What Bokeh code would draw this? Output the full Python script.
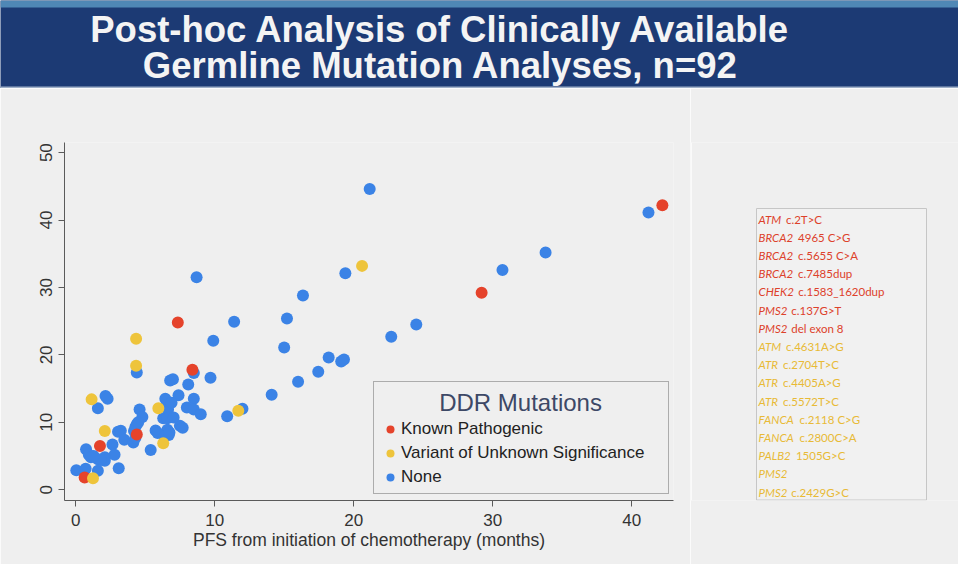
from bokeh.plotting import figure
from bokeh.models import Range1d, Legend, LegendItem, Label, FixedTicker
from bokeh.layouts import column, row
from bokeh.embed import file_html
from bokeh.resources import INLINE
from bokeh.core.properties import value

# ---------------- data ----------------
TITLE_LINES = ["Post-hoc Analysis of Clinically Available",
               "Germline Mutation Analyses, n=92"]
X_TICKS = [0, 10, 20, 30, 40]
Y_TICKS = [0, 10, 20, 30, 40, 50]
X_LABEL = "PFS from initiation of chemotherapy (months)"
LEGEND_TITLE = "DDR Mutations"
CATEGORIES = ["Known Pathogenic", "Variant of Unknown Significance", "None"]

path_x = [0.65, 1.75, 4.4, 7.35, 8.4, 29.2, 42.2]
path_y = [1.8, 6.5, 8.2, 24.8, 17.8, 29.2, 42.2]

vus_x = [1.15, 2.1, 1.25, 4.35, 4.35, 5.95, 6.3, 11.7, 20.6]
vus_y = [13.4, 8.7, 1.7, 22.4, 18.4, 12.1, 6.9, 11.7, 33.2]

none_x = [21.15, 8.7, 19.4, 16.35, 15.2, 11.4, 9.9, 15.0, 22.7, 41.2,
          33.8, 30.7, 24.5, 18.2, 19.1, 19.3, 17.45, 16.0, 14.1, 12.0,
          10.9, 9.7, 8.5, 8.1, 8.5, 8.0, 8.5, 9.0, 7.4, 7.5,
          7.7, 4.4, 6.8, 7.0, 2.15, 2.3, 1.6, 6.45, 6.55, 6.65,
          4.6, 4.8, 6.3, 6.6, 7.05, 4.4, 4.3, 3.05, 3.25, 4.2,
          5.75, 6.6, 5.9, 6.7, 6.4, 3.5, 4.15, 4.3, 2.65, 5.4,
          0.75, 0.95, 2.8, 1.6, 2.1, 2.1, 1.8, 3.1, 0.05, 0.72,
          1.6, 1.1, 6.75, 4.5, 1.3, 6.9]
none_y = [44.6, 31.5, 32.1, 28.8, 25.4, 24.9, 22.1, 21.1, 22.7, 41.1,
          35.2, 32.6, 24.5, 19.6, 19.0, 19.3, 17.5, 16.0, 14.1, 12.0,
          10.9, 16.6, 17.3, 15.6, 13.5, 12.2, 11.9, 11.2, 14.0, 9.5,
          9.2, 17.4, 16.2, 16.4, 13.9, 13.5, 12.1, 13.5, 12.6, 11.9,
          11.9, 10.8, 10.6, 10.6, 10.7, 9.7, 9.3, 8.6, 8.75, 8.7,
          8.8, 8.9, 8.4, 8.1, 7.9, 7.4, 7.0, 7.7, 6.7, 5.9,
          6.0, 5.2, 5.2, 4.5, 4.8, 4.3, 4.4, 3.2, 2.9, 3.1,
          2.8, 4.8, 8.5, 10.0, 5.0, 12.9]

GENES = ["ATM", "BRCA2", "BRCA2", "BRCA2", "CHEK2", "PMS2", "PMS2",
         "ATM", "ATR", "ATR", "ATR", "FANCA", "FANCA", "PALB2", "PMS2", "PMS2"]
VARIANTS = ["c.2T>C", "4965 C>G", "c.5655 C>A", "c.7485dup", "c.1583_1620dup",
            "c.137G>T", "del exon 8", "c.4631A>G", "c.2704T>C", "c.4405A>G",
            "c.5572T>C", "c.2118 C>G", "c.2800C>A", "1505G>C", "", "c.2429G>C"]
GENE_CLASS = ["Known Pathogenic"] * 7 + ["Variant of Unknown Significance"] * 9

# ---------------- style ----------------
BG = "#efefef"
NAVY = "#1c3a74"
RED = "#e5432b"
YELLOW = "#eec43b"
BLUE = "#3b83e6"
TXT_RED = "#dd412b"
TXT_YEL = "#e8ba36"
FONT = "Liberation Sans"


def hide_axes(f):
    f.xaxis.visible = False
    f.yaxis.visible = False
    f.xgrid.visible = False
    f.ygrid.visible = False
    f.outline_line_color = None


# ---------------- banner ----------------
banner = figure(width=958, height=88, x_range=Range1d(0, 958), y_range=Range1d(88, 0),
                toolbar_location=None, output_backend="svg", min_border=0)
hide_axes(banner)
banner.background_fill_color = NAVY
banner.border_fill_color = NAVY
banner.quad(left=[0], right=[958], top=[0], bottom=[7], fill_color="#4f87b5", line_color=None)
banner.quad(left=[0], right=[958], top=[86], bottom=[88], fill_color="#9fb0c8", line_color=None)
banner.text(x=[440, 440], y=[29, 65], text=TITLE_LINES, text_align="center",
            text_baseline="middle", text_font=value(FONT), text_font_style="bold",
            text_font_size="36.5px", text_color="#f4f4f4")

# ---------------- main scatter ----------------
p = figure(width=690, height=476, x_range=Range1d(-0.8, 43.0), y_range=Range1d(-1.6, 51.5),
           toolbar_location=None, output_backend="svg",
           min_border_left=64, min_border_right=17, min_border_top=54, min_border_bottom=64)
p.background_fill_color = BG
p.border_fill_color = BG
p.outline_line_color = None
p.xgrid.visible = False
p.ygrid.visible = False

r_none = p.scatter(none_x, none_y, size=12, fill_color=BLUE, line_color=None)
r_path = p.scatter(path_x, path_y, size=12, fill_color=RED, line_color=None)
r_vus = p.scatter(vus_x, vus_y, size=12, fill_color=YELLOW, line_color=None)

for ax in (p.xaxis[0], p.yaxis[0]):
    ax.axis_line_color = "#5a5a5a"
    ax.major_tick_line_color = "#5a5a5a"
    ax.minor_tick_line_color = None
    ax.major_tick_out = 6
    ax.major_tick_in = 0
    ax.major_label_text_font = FONT
    ax.major_label_text_font_size = "17px"
    ax.major_label_text_color = "#333333"

p.xaxis.ticker = FixedTicker(ticks=X_TICKS)
p.yaxis.ticker = FixedTicker(ticks=Y_TICKS)
p.yaxis.major_label_orientation = "vertical"
p.yaxis.major_label_standoff = 6
p.xaxis.major_label_standoff = 7
p.xaxis.axis_label = X_LABEL
p.xaxis.axis_label_text_font = FONT
p.xaxis.axis_label_text_font_size = "17.5px"
p.xaxis.axis_label_text_font_style = "normal"
p.xaxis.axis_label_text_color = "#333333"
p.xaxis.axis_label_standoff = 1

# legend title drawn as a centred label (legend background left transparent)
p.add_layout(Label(x=32.0, y=12.9, x_units="data", y_units="data", text=LEGEND_TITLE,
                   text_align="center", text_baseline="middle", text_font=FONT,
                   text_font_size="24px", text_color="#3d4866"))

legend = Legend(items=[LegendItem(label=CATEGORIES[0], renderers=[r_path]),
                       LegendItem(label=CATEGORIES[1], renderers=[r_vus]),
                       LegendItem(label=CATEGORIES[2], renderers=[r_none])],
                location=(309, 6), title=" ", title_text_font_size="24px",
                title_standoff=3, padding=6, margin=0, spacing=4,
                glyph_width=20, glyph_height=20, label_height=20, label_width=261,
                label_standoff=1,
                label_text_font=FONT, label_text_font_size="17px",
                label_text_color="#222222",
                border_line_color="#6a6a6a", border_line_width=1,
                background_fill_color=BG, background_fill_alpha=0.0)
p.add_layout(legend)

# ---------------- side panel (frame aligned with the main plot frame) ----------------
side = figure(width=268, height=476, x_range=Range1d(690, 958), y_range=Range1d(500, 142),
              toolbar_location=None, output_backend="svg",
              min_border_left=0, min_border_right=0, min_border_top=54, min_border_bottom=64)
hide_axes(side)
side.background_fill_color = BG
side.border_fill_color = BG
side.segment(x0=[690.5], y0=[142], x1=[690.5], y1=[500], line_color="#fafafa", line_width=2)
side.quad(left=[756], right=[926], top=[208], bottom=[499.5], fill_color="#f1f1f1",
          line_color="#c6c6c6", line_width=1)

CW = {"A": .68, "B": .64, "C": .66, "E": .56, "F": .54, "H": .75, "K": .65, "L": .49,
      "M": .88, "N": .75, "P": .60, "R": .62, "S": .53, "T": .57}
SIDE_FS = 11.5


def gene_width(s):
    return sum(CW.get(ch, 0.58) for ch in s) * SIDE_FS


row_y = [218.5 + 18.2 * i for i in range(len(GENES))]
gene_x = [758] * len(GENES)
var_x = [758 + gene_width(g) + 3 for g in GENES]
cols = [TXT_RED if c == CATEGORIES[0] else TXT_YEL for c in GENE_CLASS]

side.text(x=gene_x, y=row_y, text=GENES, text_color=cols, text_align="left",
          text_baseline="middle", text_font=value("Lato"), text_font_style="italic",
          text_font_size=f"{SIDE_FS}px")
vi = [i for i, v in enumerate(VARIANTS) if v]
side.text(x=[var_x[i] for i in vi], y=[row_y[i] for i in vi], text=[VARIANTS[i] for i in vi],
          text_color=[cols[i] for i in vi], text_align="left", text_baseline="middle",
          text_font=value("Lato"), text_font_size=f"{SIDE_FS}px")

layout = column(banner, row(p, side, spacing=0), spacing=0)
open("out.html", "w").write(file_html(layout, INLINE))
